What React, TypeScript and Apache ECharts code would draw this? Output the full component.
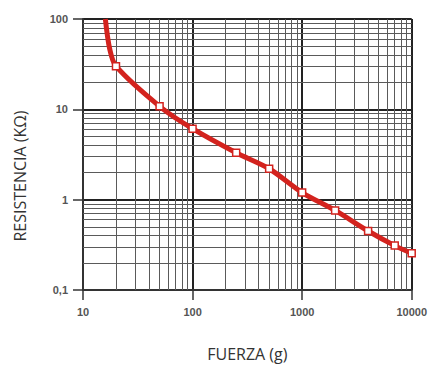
import React, { useEffect, useRef } from "react";
import * as echarts from "echarts";

const force = [16, 17.5, 20, 50, 100, 250, 500, 1000, 2000, 4000, 7000, 10000];
const resistance = [100, 47, 30, 10.8, 6.1, 3.3, 2.2, 1.2, 0.76, 0.45, 0.31, 0.255];
const marked = [false, false, true, true, true, true, true, true, true, true, true, true];

const xMinor = [20, 30, 40, 50, 60, 70, 80, 90, 200, 300, 400, 500, 600, 700, 800, 900, 2000, 3000, 4000, 5000, 6000, 7000, 8000, 9000];
const yMinor = [0.2, 0.3, 0.4, 0.5, 0.6, 0.7, 0.8, 0.9, 2, 3, 4, 5, 6, 7, 8, 9, 20, 30, 40, 50, 60, 70, 80, 90];

const xLabels: Record<string, string> = { "10": "10", "100": "100", "1000": "1000", "10000": "10000" };
const yLabels: Record<string, string> = { "0.1": "0,1", "1": "1", "10": "10", "100": "100" };

const RED = "#d3231e";

export default function App() {
  const ref = useRef<HTMLDivElement>(null);
  useEffect(() => {
    if (!ref.current) return;
    const chart = echarts.init(ref.current, undefined, { renderer: "svg" });
    const tickFont = {
      color: "#555",
      fontSize: 11,
      fontWeight: "bold" as const,
      fontFamily: "'Liberation Sans Narrow', 'Arial Narrow', 'Liberation Sans', sans-serif",
    };
    chart.setOption({
      animation: false,
      backgroundColor: "#fff",
      grid: { left: 83, right: 15, top: 19, bottom: 68, containLabel: false },
      xAxis: {
        type: "log",
        logBase: 10,
        min: 10,
        max: 10000,
        interval: 1,
        name: "FUERZA (g)",
        nameLocation: "middle",
        nameGap: 56,
        nameTextStyle: { color: "#333", fontSize: 16, fontFamily: "'Open Sans', sans-serif" },
        axisLine: { show: true, lineStyle: { color: "#333", width: 2 } },
        axisTick: { show: true, length: 10, lineStyle: { color: "#333", width: 1.5 } },
        axisLabel: { ...tickFont, margin: 16, formatter: (v: number) => xLabels[String(v)] ?? String(v) },
        splitLine: { show: true, lineStyle: { color: "#222", width: 2 } },
      },
      yAxis: {
        type: "log",
        logBase: 10,
        min: 0.1,
        max: 100,
        interval: 1,
        axisLine: { show: true, lineStyle: { color: "#333", width: 2 } },
        axisTick: { show: true, length: 10, lineStyle: { color: "#333", width: 1.5 } },
        axisLabel: { ...tickFont, margin: 15, formatter: (v: number) => yLabels[String(v)] ?? String(v) },
        splitLine: { show: true, lineStyle: { color: "#222", width: 2 } },
      },
      graphic: [
        {
          type: "text",
          x: 20,
          y: 176,
          rotation: Math.PI / 2,
          style: {
            text: "RESISTENCIA (KΩ)",
            fill: "#333",
            fontSize: 16,
            fontFamily: "'Open Sans', sans-serif",
            textAlign: "center",
            textVerticalAlign: "middle",
          },
        },
      ],
      series: [
        {
          type: "line",
          data: [],
          z: 1,
          silent: true,
          markLine: {
            silent: true,
            z: 1,
            symbol: ["none", "none"],
            label: { show: false },
            lineStyle: { color: "#5a5a5a", width: 1, type: "solid" },
            data: [
              ...xMinor.map((v) => ({ xAxis: v })),
              ...yMinor.map((v) => ({ yAxis: v })),
            ],
          },
        },
        {
          type: "line",
          z: 3,
          smooth: 0.3,
          clip: true,
          data: force.map((f, i) => ({
            value: [f, resistance[i]],
            symbol: marked[i] ? "rect" : "none",
          })),
          symbolSize: 7,
          itemStyle: { color: "#fff", borderColor: RED, borderWidth: 1.5 },
          lineStyle: { color: RED, width: 5 },
        },
      ],
    });
    return () => chart.dispose();
  }, []);
  return <div ref={ref} style={{ width: 430, height: 367, position: "absolute", left: 0, top: 0 }} />;
}
